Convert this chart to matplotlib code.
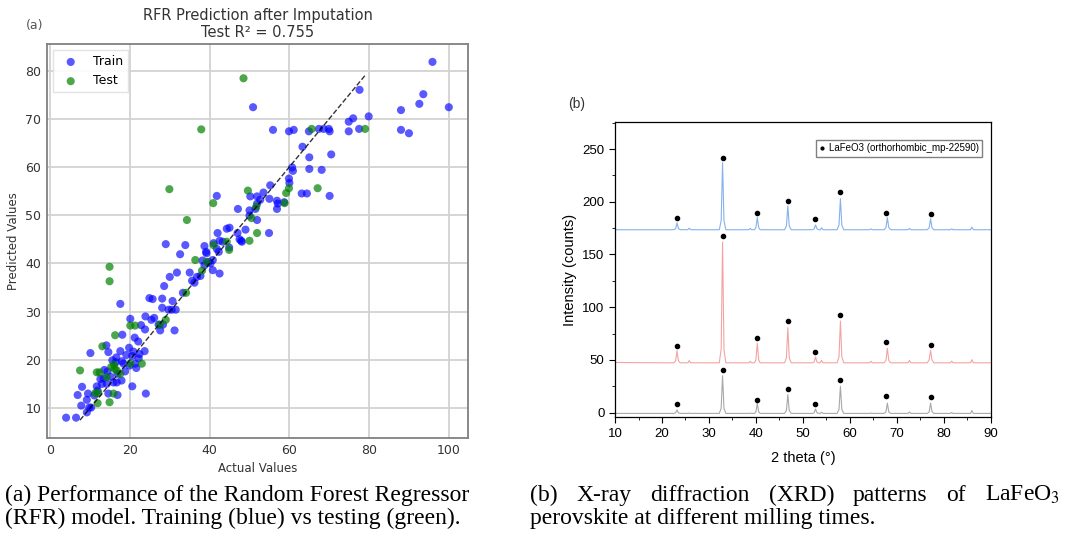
import matplotlib
matplotlib.use("Agg")
import matplotlib.pyplot as plt
from matplotlib.lines import Line2D
from matplotlib.ticker import MultipleLocator

plt.rcParams["mathtext.fontset"] = "stix"

# ---- (a) RFR scatter: actual vs predicted ----
train_actual = [95.9, 77.6, 50.9, 93.6, 92.6, 88.0, 100.0, 79.9, 76.0, 74.9, 74.9, 77.5, 88.0, 90.0,
                55.9, 59.9, 61.1, 64.9, 67.4, 68.6, 69.9, 70.1, 63.3, 65.0, 70.5, 60.7, 60.9, 65.0,
                68.1, 59.9, 60.0, 63.1, 64.4, 70.1, 55.2, 53.5, 51.9, 50.2, 52.7, 55.0, 56.9, 56.9,
                57.1, 58.7, 41.8, 51.9, 51.5, 47.1, 50.0, 51.9, 50.0, 42.0, 54.9, 44.3, 45.0, 47.0,
                49.0, 47.5, 47.9, 42.5, 41.0, 38.7, 29.0, 33.9, 43.3, 44.9, 48.1, 39.1, 39.2, 41.8,
                42.3, 38.2, 38.7, 39.7, 40.2, 40.8, 40.8, 42.5, 32.6, 35.0, 31.8, 30.0, 35.6, 36.2,
                37.7, 36.8, 28.6, 33.3, 24.9, 25.7, 28.1, 30.7, 28.1, 29.7, 30.5, 31.5, 26.1, 25.4,
                23.9, 23.8, 27.2, 28.3, 27.6, 31.2, 22.8, 17.6, 20.1, 18.1, 21.2, 22.1, 14.1, 10.1,
                14.6, 16.6, 17.6, 19.8, 20.9, 23.7, 19.9, 21.3, 22.4, 22.2, 19.1, 15.6, 16.5, 18.0,
                18.4, 20.6, 21.6, 13.6, 14.4, 18.8, 16.9, 13.4, 15.1, 12.6, 15.9, 16.7, 17.9, 13.0,
                14.2, 11.7, 20.6, 8.0, 14.6, 16.9, 24.0, 6.9, 9.5, 11.9, 11.1, 9.2, 7.8, 9.8, 9.2,
                10.3, 4.0, 6.5]
train_pred = [81.8, 76.0, 72.4, 75.1, 73.1, 71.8, 72.4, 70.5, 70.1, 69.4, 67.4, 67.9, 67.7, 67.0,
              67.7, 67.4, 67.7, 67.4, 67.9, 67.9, 67.9, 67.4, 64.2, 62.0, 62.6, 59.9, 59.2, 59.6,
              59.4, 57.6, 56.7, 54.5, 54.5, 54.0, 56.2, 54.7, 53.9, 53.9, 53.2, 53.4, 53.0, 51.3,
              52.4, 52.7, 54.0, 52.4, 51.3, 51.3, 51.0, 49.0, 49.9, 46.3, 46.3, 47.2, 47.4, 46.3,
              47.0, 45.0, 44.7, 44.7, 44.2, 43.6, 44.0, 43.8, 44.5, 43.3, 44.5, 42.4, 42.1, 43.0,
              42.4, 40.6, 39.6, 40.3, 40.0, 40.7, 38.6, 37.9, 41.9, 38.1, 38.1, 37.2, 36.4, 36.0,
              37.4, 37.2, 35.3, 33.9, 32.8, 32.6, 32.7, 32.2, 30.8, 30.4, 30.4, 30.4, 28.7, 28.3,
              29.0, 26.3, 27.3, 27.3, 26.1, 26.1, 27.2, 31.6, 28.5, 25.2, 24.6, 23.8, 23.0, 21.4,
              21.6, 20.5, 21.8, 22.5, 21.7, 21.8, 18.8, 19.2, 21.2, 20.3, 21.0, 19.9, 19.5, 19.7,
              19.2, 20.8, 18.3, 17.9, 17.6, 17.6, 17.1, 16.2, 16.5, 16.0, 15.3, 15.3, 15.7, 15.0,
              15.0, 14.5, 14.5, 14.4, 13.0, 12.7, 13.0, 12.7, 13.0, 13.6, 12.6, 11.7, 10.5, 10.1, 9.1,
              10.1, 8.0, 8.0]

test_actual = [48.5, 37.9, 65.6, 79.0, 29.9, 34.3, 49.6, 67.1, 59.9, 59.2, 40.9, 58.8, 51.7, 50.5,
               51.9, 50.0, 14.9, 14.9, 36.4, 38.1, 39.3, 41.0, 44.9, 44.3, 34.1, 29.0, 27.5, 20.1,
               21.3, 16.3, 13.1, 7.5, 11.7, 12.4, 16.0, 15.3, 16.2, 16.7, 17.6, 23.0, 20.1, 14.2,
               11.3, 12.1, 15.9, 11.9, 14.9]
test_pred = [78.4, 67.8, 67.9, 67.9, 55.4, 49.0, 55.1, 55.6, 55.6, 54.6, 52.5, 52.5, 51.8, 49.4,
             46.3, 44.7, 39.3, 36.3, 40.7, 38.5, 40.3, 43.8, 42.8, 44.5, 33.9, 28.3, 27.3, 27.1,
             27.1, 25.1, 22.8, 17.8, 17.4, 17.4, 19.0, 18.5, 18.1, 17.8, 17.1, 19.2, 19.2, 16.4,
             13.1, 13.1, 13.0, 11.0, 11.2]

# ---- (b) XRD patterns (2theta grid shared by the three scans) ----
two_theta = [10, 22.5, 22.9, 23.2, 23.5, 23.9, 25.5, 25.8, 26.1, 32.2, 32.6, 32.9, 33.2, 33.6,
             38.5, 38.8, 39.1, 39.7, 40.0, 40.3, 40.6, 40.9, 46.1, 46.5, 46.8, 47.1, 47.5,
             52.1, 52.4, 52.7, 53.0, 53.4, 53.7, 54.0, 54.3, 57.3, 57.7, 58.0, 58.3, 58.7,
             64.2, 64.5, 64.8, 67.3, 67.7, 68.0, 68.3, 68.7, 72.4, 72.7, 73.0,
             76.5, 76.9, 77.2, 77.5, 77.9, 81.4, 81.7, 82.0, 85.7, 86.0, 86.3, 90]
scan_bottom = [-0.8, -0.8, -0.3, 2.5, -0.3, -0.8, -0.8, -0.5, -0.8, -0.8, 4.0, 35.0, 4.0, -0.8,
               -0.8, -0.6, -0.8, -0.8, 0.6, 8.7, 0.6, -0.8, -0.8, 2.0, 17.0, 2.0, -0.8,
               -0.8, -0.2, 3.4, -0.2, -0.8, -0.8, 0.3, -0.8, -0.8, 3.0, 25.0, 3.0, -0.8,
               -0.8, -0.5, -0.8, -0.8, 0.6, 9.0, 0.6, -0.8, -0.8, 0.5, -0.8,
               -0.8, 0.6, 9.0, 0.8, -0.8, -0.8, 0.0, -0.8, -0.8, 1.8, -0.8, -0.8]
scan_middle = [47.5, 47.2, 49.0, 58.7, 49.0, 47.2, 47.2, 49.3, 47.2, 47.2, 60.0, 162.0, 60.0, 47.2,
               47.2, 48.6, 47.2, 47.2, 50.0, 65.6, 50.0, 47.2, 47.2, 52.0, 80.6, 52.0, 47.2,
               47.2, 48.0, 52.8, 48.0, 47.2, 47.2, 49.5, 47.2, 47.2, 53.0, 86.9, 53.0, 47.2,
               47.2, 48.6, 47.2, 47.2, 49.5, 61.0, 49.5, 47.2, 47.2, 49.5, 47.2,
               47.2, 50.0, 59.0, 50.0, 47.2, 47.2, 48.8, 47.2, 47.2, 50.2, 47.2, 47.2]
scan_top = [173.5, 173.5, 174.5, 180.0, 174.5, 173.5, 173.5, 175.0, 173.5, 173.5, 182.0, 237.0, 182.0, 173.5,
            173.5, 174.8, 173.5, 173.5, 175.5, 185.0, 175.5, 173.5, 173.5, 177.0, 196.0, 177.0, 173.5,
            173.5, 174.3, 178.0, 174.3, 173.5, 173.5, 175.3, 173.5, 173.5, 178.0, 203.0, 178.0, 173.5,
            173.5, 174.3, 173.5, 173.5, 175.5, 185.0, 175.5, 173.5, 173.5, 174.8, 173.5,
            173.5, 175.3, 184.0, 175.3, 173.5, 173.5, 174.3, 173.5, 173.5, 176.0, 173.5, 173.5]

ref_peaks = [23.1, 32.9, 40.3, 46.8, 52.6, 58.0, 67.8, 77.2]
mark_bottom = [8.0, 40.6, 11.6, 22.0, 7.8, 30.6, 15.3, 14.4]
mark_middle = [63.4, 168.0, 70.3, 86.9, 57.5, 92.2, 66.6, 64.4]
mark_top = [184.7, 241.6, 189.8, 201.0, 183.8, 209.4, 189.8, 188.6]

fig = plt.figure(figsize=(10.65, 5.39), dpi=100)

# ---------- panel (a) ----------
ax1 = fig.add_axes([0.0441, 0.1874, 0.3953, 0.731])
ax1.scatter(train_actual, train_pred, s=34, color="blue", alpha=0.65, edgecolors="none", label="Train")
ax1.scatter(test_actual, test_pred, s=34, color="green", alpha=0.7, edgecolors="none", label="Test")
ax1.plot([min(test_actual), max(test_actual)], [min(test_actual), max(test_actual)],
         color="black", ls="--", lw=1.0, alpha=0.8)
ax1.grid(True, color="#d2d2d2", lw=1.3)
ax1.set_axisbelow(True)
for sp in ax1.spines.values():
    sp.set_color("#808080")
    sp.set_linewidth(1.3)
ax1.tick_params(length=0, labelsize=9, colors="#333333", pad=4)
ax1.set_xticks([0, 20, 40, 60, 80, 100])
ax1.set_yticks([10, 20, 30, 40, 50, 60, 70, 80])
ax1.set_xlabel("Actual Values", fontsize=8.5, color="#333333", labelpad=4)
ax1.set_ylabel("Predicted Values", fontsize=8.5, color="#333333", labelpad=4)
ax1.set_title("RFR Prediction after Imputation\nTest R² = 0.755", fontsize=10.5, color="#333333",
              pad=5, linespacing=1.15)
ax1.legend(loc="upper left", fontsize=9, frameon=True, framealpha=0.9, edgecolor="#e0e0e0",
           fancybox=False, handletextpad=0.8, borderpad=0.4, scatterpoints=1)
fig.text(0.024, 0.947, "(a)", fontsize=9, color="#555555")

# ---------- panel (b) ----------
plt.rcParams["font.family"] = ["Liberation Sans", "DejaVu Sans"]
ax2 = fig.add_axes([0.5775, 0.2258, 0.3527, 0.5484])
ax2.plot(two_theta, scan_bottom, color="#a8a8a8", lw=0.8)
ax2.plot(two_theta, scan_middle, color="#f4a3a3", lw=0.8)
ax2.plot(two_theta, scan_top, color="#86b1ea", lw=0.8)
for ys in (mark_bottom, mark_middle, mark_top):
    ax2.plot(ref_peaks, ys, ls="none", marker="o", ms=3, color="black")
ax2.set_xlim(10, 90)
ax2.set_ylim(-4.5, 276)
ax2.xaxis.set_major_locator(MultipleLocator(10))
ax2.xaxis.set_minor_locator(MultipleLocator(5))
ax2.yaxis.set_major_locator(MultipleLocator(50))
ax2.yaxis.set_minor_locator(MultipleLocator(25))
ax2.tick_params(which="both", direction="out", labelsize=9.5, top=False, right=False)
ax2.tick_params(which="major", length=4)
ax2.tick_params(which="minor", length=2.5)
for sp in ax2.spines.values():
    sp.set_linewidth(0.9)
ax2.set_xlabel("2 theta (°)", fontsize=10.5, labelpad=8)
ax2.set_ylabel("Intensity (counts)", fontsize=10.5, labelpad=4)
h = Line2D([], [], ls="none", marker="o", ms=2, color="black")
ax2.legend([h], ["LaFeO3 (orthorhombic_mp-22590)"], loc="upper right", fontsize=7,
           fancybox=False, edgecolor="#808080", framealpha=1, handlelength=0.6,
           handletextpad=0.4, borderpad=0.35, bbox_to_anchor=(0.99, 0.955))
fig.text(0.533, 0.800, "(b)", fontsize=10, color="#333333")

# ---------- captions ----------
cap = dict(fontsize=17, family=["Liberation Serif", "DejaVu Serif"], va="baseline")
y1, y2 = 1 - 501 / 539, 1 - 524 / 539
fig.text(0.005, y1, "(a) Performance of the Random Forest Regressor", **cap)
fig.text(0.005, y2, "(RFR) model. Training (blue) vs testing (green).", **cap)

# first line of caption (b) is justified to the column width
words = ["(b)", "X-ray", "diffraction", "(XRD)", "patterns", "of", r"LaFeO$_3$"]
renderer = fig.canvas.get_renderer()
texts = [fig.text(0, y1, w, **cap) for w in words]
widths = [t.get_window_extent(renderer).width for t in texts]
left_px, right_px = 530, 1060
gap = (right_px - left_px - sum(widths)) / (len(words) - 1)
x = left_px
for t, w in zip(texts, widths):
    t.set_x(x / 1065)
    x += w + gap
fig.text(530 / 1065, y2, "perovskite at different milling times.", **cap)

fig.savefig("out.png", dpi=100, facecolor="white")
